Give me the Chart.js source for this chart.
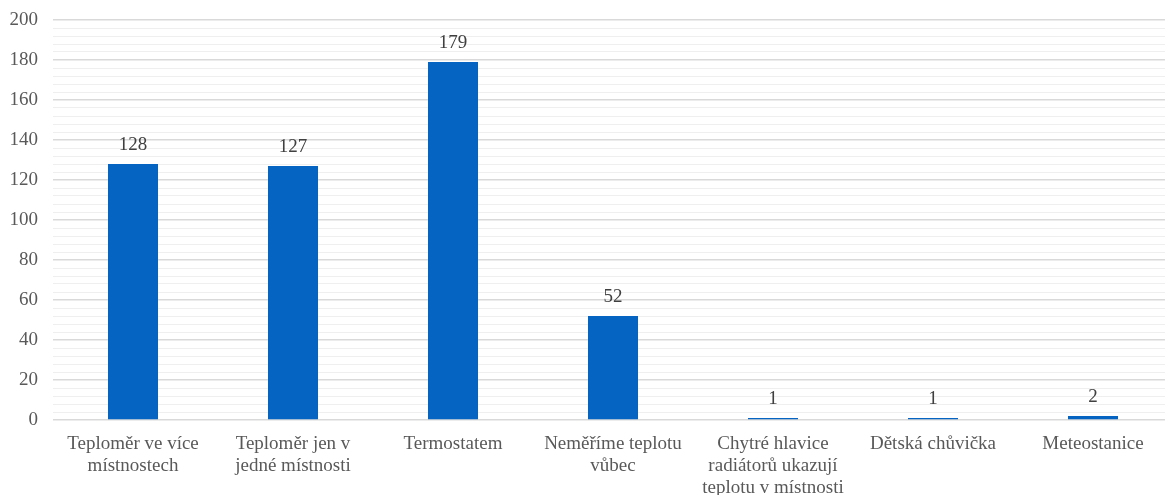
<!DOCTYPE html>
<html>
<head>
<meta charset="utf-8">
<script src="https://cdn.jsdelivr.net/npm/chart.js@4/dist/chart.umd.min.js"></script>
<style>
  html, body { margin: 0; padding: 0; background: #fff; overflow: hidden; }
  #wrap { position: absolute; left: 0; top: 0; width: 1180px; height: 500px; }
</style>
</head>
<body>
<div id="wrap"><canvas id="c"></canvas></div>
<script>
// Categories (multi-line labels) and counts
const categories = [
  ['Teploměr ve více', 'místnostech'],
  ['Teploměr jen v', 'jedné místnosti'],
  ['Termostatem'],
  ['Neměříme teplotu', 'vůbec'],
  ['Chytré hlavice', 'radiátorů ukazují', 'teplotu v místnosti'],
  ['Dětská chůvička'],
  ['Meteostanice']
];
const counts = [128, 127, 179, 52, 1, 1, 2];
const yMin = 0, yMax = 200, yMajorStep = 20, yMinorStep = 4;

const textColor = '#595959';
const fontFamily = '"Liberation Serif", "Times New Roman", serif';

// Value labels above each bar
const valueLabels = {
  id: 'valueLabels',
  afterDatasetsDraw(chart) {
    const ctx = chart.ctx;
    const meta = chart.getDatasetMeta(0);
    ctx.save();
    ctx.font = '19px ' + fontFamily;
    ctx.fillStyle = '#404040';
    ctx.textAlign = 'center';
    ctx.textBaseline = 'middle';
    meta.data.forEach((bar, i) => {
      ctx.fillText(String(counts[i]), bar.x, bar.y - 19);
    });
    ctx.restore();
  }
};

new Chart(document.getElementById('c'), {
  type: 'bar',
  data: {
    labels: categories,
    datasets: [{
      data: counts,
      backgroundColor: '#0563C1',
      borderWidth: 0,
      barPercentage: 0.3125,
      categoryPercentage: 1.0
    }]
  },
  options: {
    responsive: true,
    maintainAspectRatio: false,
    animation: false,
    layout: { padding: { top: 20, left: 8, right: 7, bottom: 0 } },
    plugins: { legend: { display: false }, tooltip: { enabled: false } },
    scales: {
      x: {
        grid: { display: false },
        border: { display: false },
        afterFit: (s) => { s.height = 80; },
        ticks: {
          color: textColor,
          font: { family: fontFamily, size: 19, lineHeight: 1.16 },
          maxRotation: 0,
          autoSkip: false,
          padding: 5
        }
      },
      y: {
        min: yMin,
        max: yMax,
        border: { display: false },
        afterFit: (s) => { s.width = 45; s.paddingTop = 0; s.paddingBottom = 0; },
        grid: {
          drawTicks: false,
          color: (c) => (c.tick && c.tick.value % yMajorStep === 0) ? '#d9d9d9' : '#efefef',
          lineWidth: (c) => (c.tick && c.tick.value % yMajorStep === 0) ? 1.5 : 1
        },
        ticks: {
          stepSize: yMinorStep,
          autoSkip: false,
          color: textColor,
          padding: 15,
          font: { family: fontFamily, size: 19 },
          callback: (v) => (v % yMajorStep === 0 ? String(v) : '')
        }
      }
    }
  },
  plugins: [valueLabels]
});
</script>
</body>
</html>
